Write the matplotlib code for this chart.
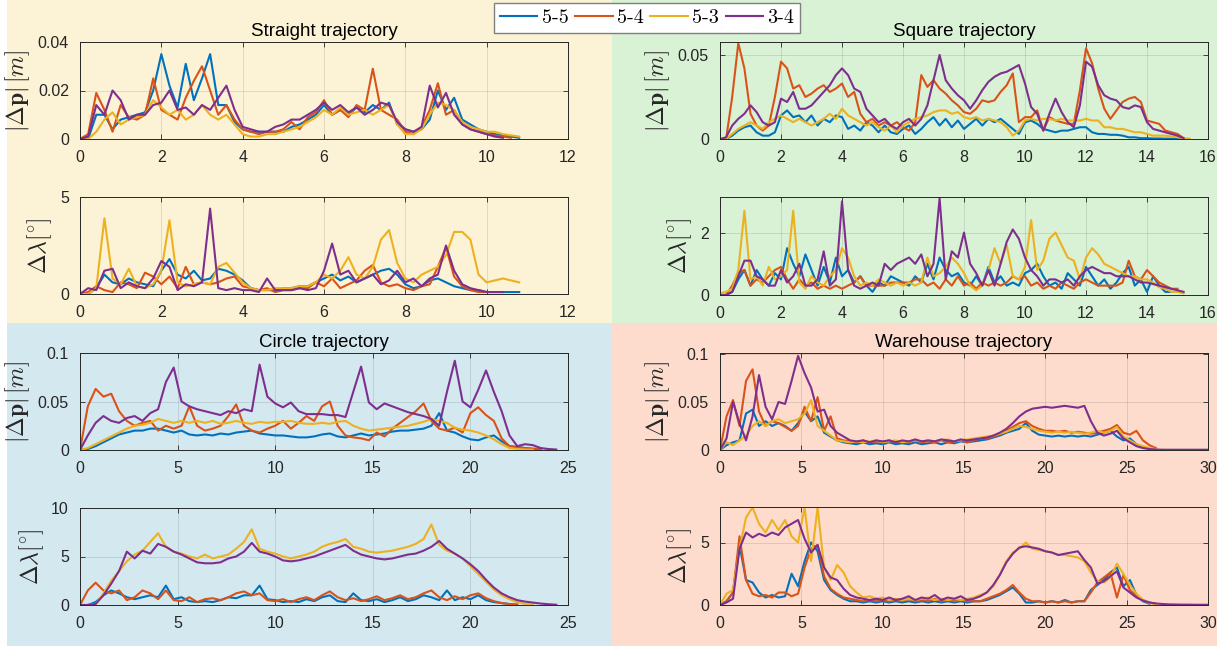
import numpy as np
import matplotlib
matplotlib.use('Agg')
import matplotlib.pyplot as plt
from matplotlib.patches import Rectangle
from matplotlib.lines import Line2D

plt.rcParams['mathtext.fontset'] = 'cm'
plt.rcParams['font.family'] = ['Liberation Sans', 'DejaVu Sans']

# ---------------- data ----------------
series_labels = ['5-5', '5-4', '5-3', '3-4']
series_colors = ['#0072BD', '#D95319', '#EDB120', '#7E2F8E']

# Straight trajectory, sample step 0.2 s ; position error in mm, angle error in deg
straight_step = 0.2
st_p_55 = [0,0,10,10,4,8,9,10,11,20,35,22,13,31,16,25,35,14,14,7,4,3,3,3,3,3,5,6,8,10,14,10,12,10,13,11,14,12,15,6,4,3,4,8,20,12,17,8,6,4,3,2,1.5,1,0.5]
st_p_54 = [0,2,19,12,3,14,9,8,10,25,12,10,8,17,24,30,20,10,14,8,4,3,2,3,3,4,7,4,9,11,16,10,12,9,14,12,29,12,10,8,3,2,5,12,23,10,12,6,4,3,2,1.5,1,0.5]
st_p_53 = [0,0,3,8,11,6,8,9,10,16,13,10,12,8,10,14,10,8,10,6,2,1,1,2,2,3,4,5,7,9,12,10,13,10,11,12,10,12,14,6,2,2,4,10,15,14,12,7,5,4,3,3,2,1.5,1]
st_p_34 = [0,1,14,10,20,16,8,10,10,14,15,20,12,13,10,14,12,17,22,12,5,4,3,3,5,6,8,8,10,12,15,12,14,11,13,10,12,15,14,7,4,3,5,22,13,19,10,6,4,3,2,1,0.5]
st_l_55 = [0,0,0.3,1.0,0.6,0.5,0.8,0.6,0.5,0.4,1.2,1.8,1.0,0.8,1.2,0.7,0.8,1.3,1.2,1.0,0.7,0.3,0.2,0.2,0.2,0.3,0.3,0.4,0.4,0.6,0.8,1.0,0.7,0.9,0.6,0.8,1.0,1.2,1.3,1.0,0.5,0.3,0.4,0.7,0.8,0.6,0.4,0.3,0.2,0.2,0.1,0.1,0.1,0.1,0.1]
st_l_54 = [0,0.1,0.4,0.2,0.1,0.6,0.5,0.3,1.1,0.9,0.5,0.9,0.3,1.4,0.5,0.6,0.5,0.6,0.8,0.9,0.4,0.3,0.2,0.3,0.1,0.2,0.2,0.3,0.3,0.6,0.4,0.8,0.3,0.5,0.7,1.2,1.5,0.6,0.4,0.5,0.3,0.2,0.4,0.5,1.4,2.4,0.9,0.4,0.2,0.1,0.1]
st_l_53 = [0,0,0.3,3.9,0.8,0.5,1.3,0.4,0.3,0.5,1.2,3.8,0.6,0.4,0.5,0.6,0.5,1.4,1.6,1.1,0.6,0.3,0.2,0.2,0.3,0.3,0.3,0.4,0.4,0.6,1.0,0.8,1.2,1.9,1.0,0.8,1.4,2.8,3.3,1.6,0.8,0.6,1.0,1.2,1.4,2.0,3.2,3.2,2.8,1.0,0.6,0.7,0.8,0.7,0.6]
st_l_34 = [0,0.3,0.2,1.2,1.3,0.3,0.6,0.4,0.3,0.8,1.7,1.4,0.2,0.5,0.4,0.6,4.4,0.3,0.2,0.3,0.2,0.2,0.1,0.8,0.2,0.2,0.2,0.3,0.2,0.3,1.2,2.6,1.0,1.2,0.6,0.8,1.0,0.5,0.7,1.2,0.6,0.8,0.4,0.8,1.0,2.5,1.2,0.5,0.3,0.2,0.1,0.1,0.1]

# Square trajectory, step 0.2 s
square_step = 0.2
sq_p_55 = [0,0,2,5,7,8,4,2,2,4,14,17,13,14,10,14,8,12,10,14,13,6,8,5,10,8,4,8,4,3,6,8,3,6,10,13,8,12,7,11,6,9,12,8,12,10,12,9,6,3,10,11,9,6,5,4,5,5,6,7,7,4,3,3,2.5,2.5,2,1,1,0.5,0.5,0.3,0.3,0.2,0.2,0.1,0.1]
sq_p_54 = [0,0,25,57,42,15,8,5,8,25,46,42,30,32,25,27,30,32,28,30,33,25,28,15,10,12,8,10,8,10,7,5,10,38,31,35,30,27,23,20,16,15,18,23,22,23,28,32,39,10,13,13,17,5,13,11,10,9,9,29,54,45,30,18,12,17,22,24,25,22,11,10,9,5,4,3,0.5]
sq_p_53 = [0,0,3,6,8,10,8,6,10,12,14,12,10,12,10,8,10,12,15,12,18,14,12,10,8,10,7,5,8,4,8,10,12,13,14,16,17,17,15,16,13,12,13,11,12,11,10,7,2,5,11,12,11,12,12,11,12,11,11,11,12,11,11,7,7,6,6,5,4,4,3,2,2,2,1.5,1,0.5,0.2]
sq_p_34 = [0,1,8,12,15,20,16,10,8,10,24,22,28,18,18,20,24,28,32,38,42,38,30,28,18,14,10,12,8,6,10,12,8,12,20,35,50,35,30,26,23,18,23,29,34,37,39,40,42,44,33,19,15,5,15,24,16,10,7,20,46,43,32,26,24,23,19,18,20,19,10,6,5,4,3,2,0.5]
sq_l_55 = [0,0,0.1,0.5,0.8,0.3,0.8,0.5,0.3,0.7,0.5,1.5,1.0,0.6,1.3,0.8,0.3,0.9,0.4,1.2,0.6,0.8,0.4,0.6,0.3,0.1,0.4,0.3,0.6,0.5,0.4,0.3,0.6,0.4,1.0,0.5,1.2,0.8,0.6,0.7,0.4,0.3,0.6,0.3,0.9,0.4,0.6,0.3,0.4,0.3,0.7,0.8,1.0,0.6,0.3,0.4,0.2,0.7,0.5,0.3,0.9,0.6,0.3,0.5,0.2,0.4,0.7,0.9,0.3,0.5,0.1,0.6,0.3,0.1,0.1]
sq_l_54 = [0,0,0.3,0.7,0.8,0.3,0.5,0.4,0.6,0.8,0.9,0.5,0.2,0.5,0.3,0.4,0.2,0.3,0.2,0.3,0.2,0.3,0.4,0.6,0.3,0.3,0.3,0.3,0.4,0.4,0.4,0.4,0.5,0.5,0.3,0.4,0.2,0.5,0.3,0.6,0.3,0.4,0.2,0.4,0.3,0.4,0.3,0.4,0.6,0.5,0.6,0.3,0.4,0.2,0.3,0.2,0.4,0.3,0.2,0.4,0.5,0.4,0.3,0.3,0.3,0.3,0.4,1.1,0.6,0.5,0.8,0.6,0.4,0.3,0.2,0.2]
sq_l_53 = [0.05,0.1,0.2,0.8,2.7,0.5,0.6,0.3,0.9,0.5,0.6,0.8,2.7,0.4,0.2,0.6,0.4,0.3,0.6,0.8,1.5,1.2,0.6,0.3,0.4,0.3,0.5,0.4,0.3,0.4,0.3,0.4,0.3,0.4,1.2,0.6,0.7,0.9,1.2,1.0,0.7,0.3,0.15,0.3,0.8,1.5,1.0,1.6,0.6,0.5,0.9,2.4,0.8,1.1,1.8,2.0,1.6,1.2,1.1,0.5,1.2,1.5,1.3,1.0,0.9,0.8,0.7,0.6,0.6,0.5,0.5,0.4,0.25,0.2,0.1,0.1,0.05]
sq_l_34 = [0,0,0.1,0.6,1.1,1.1,0.6,0.5,0.3,0.3,0.8,0.4,0.6,1.0,0.3,0.3,0.5,1.4,0.3,0.5,3.0,0.8,0.3,0.2,0.3,0.4,0.3,1.0,0.8,1.0,1.1,1.2,1.0,1.3,0.6,1.0,3.1,0.5,1.4,1.2,2.0,1.0,0.7,0.3,0.8,0.3,1.0,1.7,2.1,1.8,1.2,0.8,0.6,0.3,0.5,0.5,0.4,0.5,0.3,0.6,0.8,0.9,0.8,0.7,0.7,0.6,0.6,0.6,0.5,0.4,0.4,0.35,0.3,0.25,0.2,0.15,0.1]

# Circle trajectory, step 0.4 s
circle_step = 0.4
ci_p_55 = [0,1,4,8,12,16,18,20,20,22,22,20,18,20,16,15,16,15,17,16,18,19,20,17,16,15,15,14,13,13,14,16,17,14,13,15,17,15,16,17,19,20,20,21,22,25,38,20,18,14,11,10,13,15,9,4,3,2,1,0.5]
ci_p_54 = [0,45,63,55,58,40,30,25,28,30,20,25,22,25,45,25,20,22,25,35,47,25,20,18,22,25,30,22,28,35,30,45,50,25,15,13,12,10,18,14,22,28,34,40,48,30,22,20,23,18,38,44,36,30,12,4,3,2,1.5,1]
ci_p_53 = [0,2,6,10,14,18,22,25,26,28,32,30,28,30,28,30,28,30,27,28,30,28,27,29,28,29,29,30,28,27,27,28,27,29,30,25,22,20,21,22,23,24,25,27,29,32,30,28,23,21,20,18,15,11,6,2,1,0.5,0.3]
ci_p_34 = [0,15,28,35,30,28,33,35,30,38,42,70,85,50,45,42,40,38,36,40,38,42,40,88,55,48,44,49,40,37,37,37,36,36,34,60,86,49,42,48,45,42,39,37,35,32,25,60,92,50,44,62,82,60,40,15,4,6,5,2,1,0.5]
ci_l_55 = [0,0,0.3,1.0,1.5,1.2,0.8,0.6,0.8,1.0,0.8,2.0,0.6,0.8,0.4,0.3,0.4,0.3,0.5,0.8,0.7,1.0,1.0,2.0,0.6,0.5,0.3,0.4,0.3,0.6,0.4,0.8,1.0,0.4,0.3,1.2,0.5,0.4,0.6,0.3,0.5,0.8,0.4,0.6,1.0,0.8,0.5,1.5,0.5,0.8,0.6,1.0,0.5,0.3,0.2,0.1,0.05]
ci_l_54 = [0,1.5,2.3,1.5,1.2,1.5,0.5,0.8,1.5,1.2,0.6,1.5,0.5,0.4,0.8,0.3,0.6,0.7,0.5,0.8,1.2,1.4,1.0,1.2,0.5,0.4,0.6,0.3,0.6,0.8,0.5,1.0,1.4,0.8,0.5,0.7,0.4,0.6,0.9,0.5,0.7,1.0,0.6,0.8,1.2,1.5,0.8,0.5,0.9,0.6,1.0,1.2,0.7,0.4,0.2,0.1,0.05]
ci_l_53 = [0,0,0.1,1.2,2.5,3.5,4.5,5.2,5.6,6.5,7.4,6.0,5.5,5.3,5.0,4.8,5.2,4.8,5.0,5.2,5.8,6.5,7.8,5.8,5.5,5.3,5.0,4.8,5.0,5.2,5.5,6.0,6.3,6.5,6.8,6.0,5.8,5.5,5.4,5.5,5.6,5.8,6.0,6.3,6.8,8.3,6.2,5.6,5.3,4.8,4.0,3.2,2.4,1.6,1.0,0.6,0.3,0.1,0.05]
ci_l_34 = [0,0,0.1,1.0,2.2,3.5,5.5,4.8,5.6,5.3,6.3,6.0,5.5,5.2,4.8,4.4,4.3,4.3,4.4,4.8,5.0,5.5,6.4,5.5,5.3,5.0,4.6,4.5,4.6,4.8,5.0,5.3,5.6,5.9,6.2,5.6,5.2,5.0,4.8,4.7,4.8,5.0,5.2,5.3,5.6,6.0,6.6,5.8,5.3,4.8,4.2,3.5,2.6,1.8,1.2,0.8,0.5,0.35,0.25,0.15,0.08,0.03]

# Warehouse trajectory, step 0.4 s
warehouse_step = 0.4
wh_p_55 = [0,5,8,10,38,42,25,30,25,28,25,20,28,40,30,35,18,14,10,8,7,6,8,6,7,6,8,6,7,6,8,6,7,8,6,8,7,9,8,9,10,11,13,15,18,20,22,28,20,16,15,14,15,14,15,14,15,14,16,18,20,14,10,12,6,3,1]
wh_p_54 = [0,35,52,25,72,84,40,25,30,28,24,20,25,45,30,55,20,35,12,10,9,8,10,8,9,8,10,8,9,8,10,8,9,8,10,8,9,10,8,10,12,12,14,16,20,24,28,30,25,22,20,20,19,20,18,19,18,17,18,20,22,26,18,16,20,10,5,2]
wh_p_53 = [0,8,5,10,15,25,30,25,30,32,28,30,32,38,52,25,20,15,10,9,8,9,8,9,10,8,9,10,8,9,10,9,10,9,10,11,9,10,11,12,13,14,15,17,19,22,25,24,22,20,19,18,19,18,19,18,17,18,20,18,20,24,14,10,6,4,2,1]
wh_p_34 = [0,12,50,28,10,35,78,45,32,50,48,72,98,80,65,40,42,25,18,14,10,9,10,8,10,9,10,8,10,9,11,9,10,9,11,10,9,11,10,11,12,13,15,18,22,28,35,40,43,44,45,44,45,46,45,44,46,30,18,15,17,20,12,8,4,2,1,0.5,0.3,0.3,0.3,0.3,0.3,0.3,0.3,0.3]
wh_l_55 = [0,0.3,1.0,4.8,2.0,1.8,1.0,0.6,0.8,0.6,0.7,2.5,1.5,3.5,5.0,4.3,2.0,1.2,0.8,0.5,0.3,0.3,0.2,0.3,0.2,0.3,0.2,0.3,0.2,0.3,0.2,0.3,0.2,0.3,0.2,0.3,0.2,0.3,0.2,0.3,0.3,0.4,0.6,0.8,1.1,1.4,0.9,0.2,0.2,0.3,0.2,0.3,0.2,0.4,0.2,0.3,0.3,1.2,1.6,2.0,2.6,3.0,1.5,2.0,0.8,0.3,0.1]
wh_l_54 = [0,0.3,1.0,5.5,2.0,0.9,0.7,0.8,0.6,1.0,1.0,0.7,0.9,3.0,4.5,4.8,2.3,1.3,0.9,0.6,0.5,0.4,0.3,0.4,0.3,0.4,0.3,0.4,0.3,0.5,0.3,0.4,0.3,0.5,0.3,0.4,0.3,0.4,0.3,0.3,0.3,0.5,0.7,0.9,1.2,1.6,1.0,0.5,0.3,0.3,0.2,0.3,0.2,0.3,0.2,0.3,0.3,1.0,1.8,2.2,2.6,0.6,2.4,1.2,0.7,0.4,0.2,0.1]
wh_l_53 = [0,0.9,1.2,4.5,7.0,7.8,6.5,5.8,6.8,6.0,6.8,5.5,5.0,7.8,3.5,7.8,3.0,2.0,3.2,2.6,1.5,1.0,0.6,0.7,0.5,0.6,0.4,0.5,0.4,0.5,0.4,0.5,0.6,0.4,0.5,0.4,0.5,0.4,0.5,0.6,0.8,1.0,1.5,2.4,3.5,4.2,4.5,5.0,4.5,4.4,4.3,4.2,4.0,4.0,3.9,3.8,3.5,2.6,1.9,1.8,2.2,3.3,2.5,1.6,0.9,0.4,0.15,0.05]
wh_l_34 = [0,0.2,0.5,4.5,5.8,5.4,5.7,5.5,5.8,5.6,6.2,6.5,6.8,5.3,4.2,4.8,3.0,2.2,2.0,1.3,0.8,0.6,0.5,0.4,0.5,0.4,0.6,0.4,0.5,0.7,0.4,0.6,0.5,0.8,0.4,0.6,0.5,0.7,0.4,0.5,0.7,1.0,1.6,2.4,3.4,4.1,4.6,4.7,4.6,4.5,4.3,4.2,4.0,4.1,4.2,4.3,3.6,3.0,1.7,1.9,2.3,2.7,1.4,1.0,0.6,0.35,0.2,0.12,0.08,0.05,0.04,0.03,0.03,0.02,0.02,0.02]

# ---------------- figure ----------------
W, H = 1225, 646
fig = plt.figure(figsize=(W / 100, H / 100), dpi=100)
fig.patch.set_facecolor('white')


def fbox(l, t, r, b):
    return [l / W, 1 - b / H, (r - l) / W, (b - t) / H]


panels = [((7, 0, 612, 323), '#FCF2D6'), ((612, 0, 1217, 323), '#D9F1D5'),
          ((7, 323, 612, 646), '#D4E8F0'), ((612, 323, 1217, 646), '#FDDCCD')]
for (l, t, r, b), c in panels:
    x0, y0, w, h = fbox(l, t, r, b)
    fig.add_artist(Rectangle((x0, y0), w, h, transform=fig.transFigure,
                             facecolor=c, edgecolor='none', zorder=-5))

TICK = '#262626'


def make_ax(box, step, series, xlim, xticks, ylim, yticks, ylabels, ylabel, scale=1.0, title=None):
    ax = fig.add_axes(fbox(*box))
    ax.set_facecolor('none')
    for vals, col in zip(series, series_colors):
        y = np.asarray(vals, dtype=float) * scale
        x = np.arange(len(y)) * step
        ax.plot(x, y, color=col, lw=1.5, solid_joinstyle='round')
    ax.set_xlim(*xlim)
    ax.set_ylim(*ylim)
    ax.set_xticks(xticks)
    ax.set_xticklabels([str(v) for v in xticks])
    ax.set_yticks(yticks)
    ax.set_yticklabels(ylabels)
    ax.tick_params(direction='in', length=3.5, width=0.6, top=True, right=True,
                   labelsize=11.5, colors=TICK, pad=8)
    for s in ax.spines.values():
        s.set_color(TICK)
        s.set_linewidth(0.7)
    ax.grid(True, color='black', alpha=0.12, lw=0.6)
    ax.set_axisbelow(True)
    ax.set_ylabel(ylabel, fontsize=17, color=TICK, labelpad=4)
    if title:
        ax.set_title(title, fontsize=13.5, pad=4, color='black')
    return ax


P_LABEL = r'$|\Delta\mathbf{p}|\,[m]$'
L_LABEL = r'$\Delta\lambda[^{\circ}]$'

# Straight
make_ax((80, 42, 568, 139), straight_step, [st_p_55, st_p_54, st_p_53, st_p_34],
        (0, 12), [0, 2, 4, 6, 8, 10, 12], (0, 0.04), [0, 0.02, 0.04], ['0', '0.02', '0.04'],
        P_LABEL, scale=1e-3, title='Straight trajectory')
make_ax((80, 197, 568, 294), straight_step, [st_l_55, st_l_54, st_l_53, st_l_34],
        (0, 12), [0, 2, 4, 6, 8, 10, 12], (0, 5), [0, 5], ['0', '5'], L_LABEL)
# Square
make_ax((720, 42, 1208, 139), square_step, [sq_p_55, sq_p_54, sq_p_53, sq_p_34],
        (0, 16), [0, 2, 4, 6, 8, 10, 12, 14, 16], (0, 0.0577), [0, 0.05], ['0', '0.05'],
        P_LABEL, scale=1e-3, title='Square trajectory')
make_ax((720, 197, 1208, 295), square_step, [sq_l_55, sq_l_54, sq_l_53, sq_l_34],
        (0, 16), [0, 2, 4, 6, 8, 10, 12, 14, 16], (0, 3.14), [0, 2], ['0', '2'], L_LABEL)
# Circle
make_ax((80, 353, 568, 450), circle_step, [ci_p_55, ci_p_54, ci_p_53, ci_p_34],
        (0, 25), [0, 5, 10, 15, 20, 25], (0, 0.1), [0, 0.05, 0.1], ['0', '0.05', '0.1'],
        P_LABEL, scale=1e-3, title='Circle trajectory')
make_ax((80, 508, 568, 605), circle_step, [ci_l_55, ci_l_54, ci_l_53, ci_l_34],
        (0, 25), [0, 5, 10, 15, 20, 25], (0, 10), [0, 5, 10], ['0', '5', '10'], L_LABEL)
# Warehouse
make_ax((720, 353, 1208, 450), warehouse_step, [wh_p_55, wh_p_54, wh_p_53, wh_p_34],
        (0, 30), [0, 5, 10, 15, 20, 25, 30], (0, 0.101), [0, 0.05, 0.1], ['0', '0.05', '0.1'],
        P_LABEL, scale=1e-3, title='Warehouse trajectory')
make_ax((720, 507, 1208, 605), warehouse_step, [wh_l_55, wh_l_54, wh_l_53, wh_l_34],
        (0, 30), [0, 5, 10, 15, 20, 25, 30], (0, 7.84), [0, 5], ['0', '5'], L_LABEL)

# legend
handles = [Line2D([], [], color=c, lw=1.5) for c in series_colors]
leg = fig.legend(handles, series_labels, loc='upper center', bbox_to_anchor=(647 / W, 1 - 3 / H),
                 ncol=4, frameon=True, fancybox=False, borderaxespad=0,
                 prop={'family': 'cmr10', 'size': 14.5}, handlelength=1.85, handletextpad=0.2,
                 columnspacing=0.35, borderpad=0.3)
leg.get_frame().set_edgecolor('#808080')
leg.get_frame().set_linewidth(1.0)
leg.get_frame().set_facecolor('white')
leg.get_frame().set_alpha(1)

fig.savefig('out.png', dpi=100, facecolor='white')
